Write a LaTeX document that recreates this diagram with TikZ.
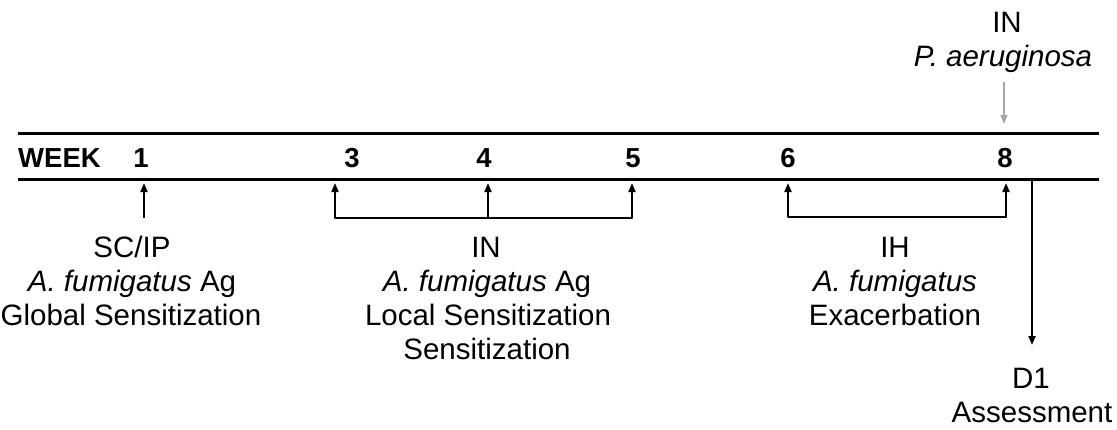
\documentclass[tikz,border=0pt]{standalone}
\usepackage{fontspec}
\setmainfont{Liberation Sans}
\usetikzlibrary{arrows.meta}
\begin{document}
\begin{tikzpicture}[x=1pt,y=-1pt,
  lbl/.style={font=\fontsize{29.5}{34}\selectfont, inner sep=0pt, anchor=base},
  num/.style={font=\fontsize{27.5}{34}\selectfont\bfseries, inner sep=0pt, anchor=base},
  tline/.style={line width=3pt},
  bar/.style={line width=2pt},
  arr/.style={line width=2pt, -{Triangle[length=9pt,width=7pt]}},
  garr/.style={arr, draw=black!35, line width=1.6pt},
]
\useasboundingbox (0,0) rectangle (1117,429);
% timeline borders
\coordinate (tlL) at (18,133);
\coordinate (tlR) at (1099,133);
\coordinate (blL) at (18,179);
\coordinate (blR) at (1099,179);
\draw[tline] (tlL) -- (tlR);
\draw[tline] (blL) -- (blR);
% week labels
\node[num, anchor=base west] (week) at (18,167) {WEEK};
\node[num] (w1) at (141,167) {1};
\node[num] (w3) at (352,167) {3};
\node[num] (w4) at (484,167) {4};
\node[num] (w5) at (633,167) {5};
\node[num] (w6) at (788,167) {6};
\node[num] (w8) at (1005,167) {8};
% arrow coordinates
\coordinate (a1b) at (144,218); \coordinate (a1t) at (144,183);
\coordinate (a3b) at (335,218); \coordinate (a3t) at (335,183);
\coordinate (a4b) at (488,218); \coordinate (a4t) at (488,183);
\coordinate (a5b) at (632,218); \coordinate (a5t) at (632,183);
\coordinate (a6b) at (788,217); \coordinate (a6t) at (788,183);
\coordinate (a8b) at (1006,217); \coordinate (a8t) at (1006,183);
\coordinate (dTop) at (1032,179); \coordinate (dBot) at (1032,345);
\coordinate (gTop) at (1004,82); \coordinate (gBot) at (1004,124);
% arrows
\draw[arr] (a1b) -- (a1t);
\draw[bar, line cap=round] (a3b) -- (a5b);
\draw[arr] (a3b) -- (a3t);
\draw[arr] (a4b) -- (a4t);
\draw[arr] (a5b) -- (a5t);
\draw[bar, line cap=round] (a6b) -- (a8b);
\draw[arr] (a6b) -- (a6t);
\draw[arr] (a8b) -- (a8t);
\draw[arr] (dTop) -- (dBot);
\draw[garr] (gTop) -- (gBot);
% labels
\node[lbl] (l1a) at (132,257) {SC/IP};
\node[lbl] (l1b) at (132,291) {\textit{A. fumigatus} Ag};
\node[lbl] (l1c) at (131,325) {Global Sensitization};
\node[lbl] (l2a) at (486,257) {IN};
\node[lbl] (l2b) at (487,291) {\textit{A. fumigatus} Ag};
\node[lbl] (l2c) at (488,325) {Local Sensitization};
\node[lbl] (l2d) at (487,359) {Sensitization};
\node[lbl] (l3a) at (895,257) {IH};
\node[lbl] (l3b) at (895,291) {\textit{A. fumigatus}};
\node[lbl] (l3c) at (895,325) {Exacerbation};
\node[lbl] (l4a) at (1031,388) {D1};
\node[lbl] (l4b) at (1032,422) {Assessment};
\node[lbl] (t1) at (1007,32) {IN};
\node[lbl] (t2) at (1003,66) {\textit{P. aeruginosa}};
\end{tikzpicture}
\end{document}
